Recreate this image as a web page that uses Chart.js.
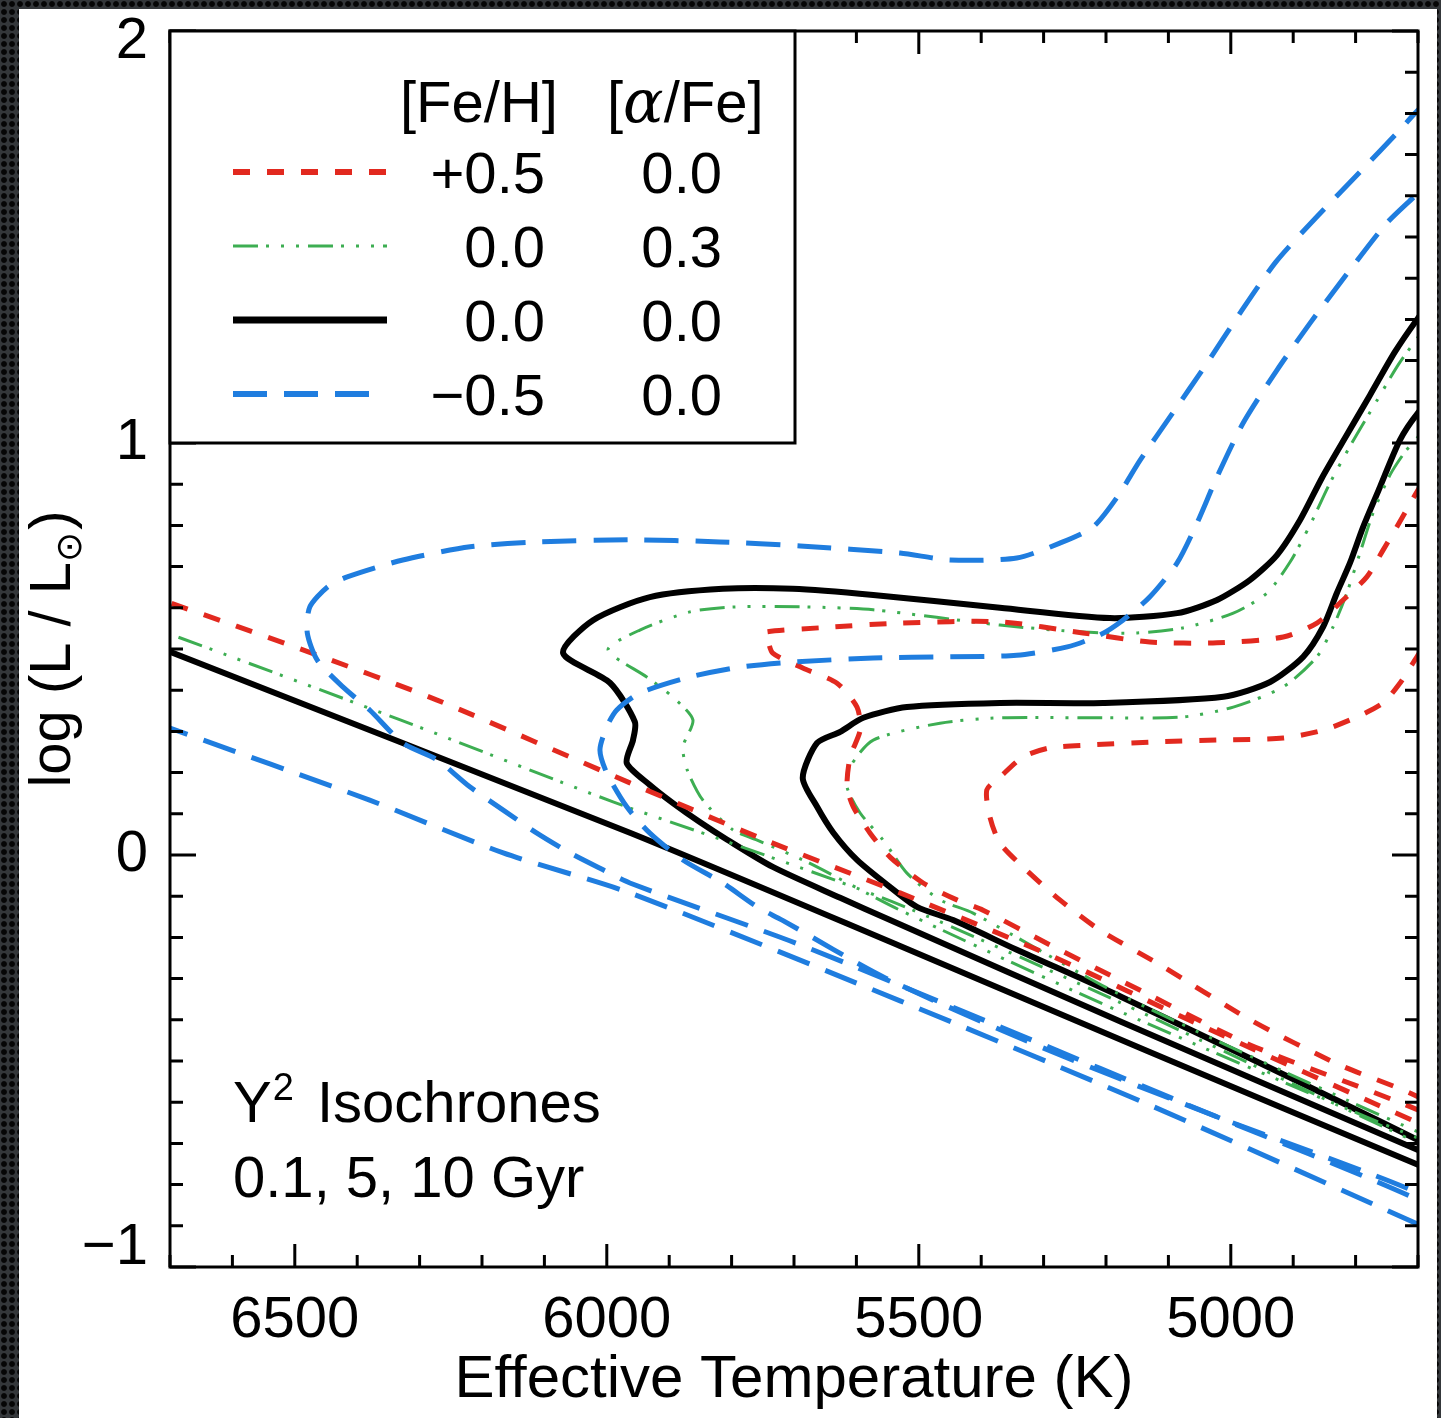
<!DOCTYPE html>
<html>
<head>
<meta charset="utf-8">
<script src="https://cdn.jsdelivr.net/npm/chart.js@4/dist/chart.umd.min.js"></script>
<style>
  html, body { margin: 0; padding: 0; }
  body {
    width: 1441px; height: 1418px; overflow: hidden; position: relative;
    background-color: #34373a;
    background-image: radial-gradient(circle, #060606 0, #060606 2.4px, rgba(6,6,6,0) 3.4px);
    background-size: 8px 8px;
  }
  #panel { position: absolute; left: 19px; top: 9px; width: 1418px; height: 1409px; background: #fff; }
  canvas { display: block; }
</style>
</head>
<body>
<div id="panel"><canvas id="hrd" width="1418" height="1409"></canvas></div>
<script>
// Y^2 isochrones in the HR diagram: [Teff (K), log L/Lsun] along each track
// Axis tick labels
const xTickValues = [6500, 6000, 5500, 5000];
const yTickValues = [-1, 0, 1, 2];

// Legend table
const feHLabels = ['+0.5', '0.0', '0.0', '\u22120.5'];
const alphaFeLabels = ['0.0', '0.3', '0.0', '0.0'];
const annotationLines = ['Isochrones', '0.1, 5, 10 Gyr'];

// [Fe/H] = +0.5, [a/Fe] = 0.0
const red_0p1Gyr = [[6800,0.665],[6700,0.612],[6487,0.498],[6272,0.376],[5963,0.175],[5754,0.041],[5530,-0.092],[5290,-0.243],[5049,-0.413],[4700,-0.650],[4650,-0.680]];
const red_5Gyr = [[4650,-0.670],[4700,-0.619],[4969,-0.461],[5130,-0.340],[5290,-0.218],[5397,-0.134],[5439,-0.109],[5493,-0.068],[5546,-0.005],[5578,0.053],[5605,0.117],[5615,0.165],[5610,0.238],[5594,0.303],[5599,0.359],[5631,0.417],[5686,0.454],[5734,0.490],[5743,0.529],[5746,0.541],[5642,0.553],[5530,0.563],[5370,0.566],[5237,0.539],[5130,0.517],[5022,0.515],[4916,0.529],[4862,0.563],[4820,0.619],[4782,0.675],[4756,0.740],[4734,0.796],[4700,0.886],[4685,0.920]];
const red_10Gyr = [[4650,-0.650],[4700,-0.587],[4825,-0.510],[4969,-0.400],[5113,-0.267],[5210,-0.182],[5274,-0.109],[5333,-0.029],[5370,0.029],[5386,0.092],[5391,0.158],[5370,0.189],[5333,0.238],[5290,0.260],[5226,0.267],[5130,0.274],[5022,0.279],[4916,0.284],[4852,0.303],[4798,0.335],[4756,0.369],[4729,0.417],[4708,0.466],[4700,0.485],[4690,0.510]];

// [Fe/H] = 0.0, [a/Fe] = +0.3
const green_0p1Gyr = [[6800,0.587],[6700,0.536],[6331,0.328],[5990,0.129],[5814,0.036],[5530,-0.121],[5176,-0.359],[4700,-0.699],[4650,-0.730]];
const green_5Gyr = [[4650,-0.700],[4700,-0.687],[5176,-0.381],[5530,-0.134],[5679,-0.017],[5759,0.036],[5798,0.061],[5846,0.133],[5871,0.206],[5878,0.262],[5862,0.328],[5894,0.383],[5936,0.432],[5998,0.498],[5947,0.546],[5867,0.590],[5798,0.602],[5679,0.602],[5573,0.595],[5370,0.558],[5237,0.541],[5150,0.539],[5077,0.551],[4996,0.587],[4942,0.636],[4905,0.711],[4873,0.801],[4841,0.903],[4806,1.000],[4767,1.100],[4732,1.189],[4700,1.257],[4685,1.290]];
const green_10Gyr = [[4650,-0.690],[4700,-0.672],[5176,-0.340],[5413,-0.141],[5466,-0.109],[5519,-0.044],[5557,0.036],[5594,0.102],[5615,0.165],[5610,0.214],[5573,0.279],[5466,0.320],[5370,0.333],[5210,0.333],[5077,0.335],[4996,0.359],[4916,0.408],[4862,0.481],[4836,0.554],[4814,0.636],[4793,0.733],[4772,0.830],[4745,0.922],[4721,0.978],[4700,1.015],[4690,1.040]];

// [Fe/H] = 0.0, [a/Fe] = 0.0
const black_0p1Gyr = [[6800,0.553],[6700,0.493],[5963,0.054],[5530,-0.221],[5130,-0.478],[4700,-0.752],[4650,-0.784]];
const black_5Gyr = [[4650,-0.750],[4700,-0.716],[5176,-0.405],[5546,-0.158],[5626,-0.104],[5734,-0.029],[5807,0.037],[5851,0.080],[5894,0.126],[5931,0.170],[5968,0.223],[5958,0.279],[5955,0.323],[5995,0.418],[6070,0.490],[6022,0.570],[5931,0.626],[5814,0.646],[5702,0.646],[5573,0.631],[5370,0.600],[5194,0.575],[5086,0.587],[5022,0.619],[4969,0.668],[4926,0.728],[4889,0.813],[4854,0.915],[4817,1.012],[4777,1.116],[4737,1.221],[4700,1.303],[4680,1.340]];
const black_10Gyr = [[4650,-0.740],[4700,-0.692],[5176,-0.344],[5343,-0.230],[5445,-0.158],[5503,-0.126],[5546,-0.078],[5599,-0.012],[5637,0.054],[5663,0.117],[5686,0.187],[5663,0.272],[5626,0.299],[5589,0.333],[5519,0.359],[5370,0.369],[5205,0.369],[5012,0.384],[4937,0.420],[4884,0.481],[4852,0.554],[4830,0.636],[4809,0.709],[4788,0.796],[4761,0.893],[4729,1.007],[4700,1.073],[4680,1.100]];

// [Fe/H] = -0.5, [a/Fe] = 0.0
const blue_0p1Gyr = [[6800,0.363],[6700,0.308],[6380,0.133],[6166,0.005],[5963,-0.092],[5530,-0.354],[5130,-0.607],[4700,-0.896],[4650,-0.930]];
const blue_5Gyr = [[4650,-0.900],[4700,-0.837],[5049,-0.619],[5370,-0.417],[5690,-0.218],[5963,-0.068],[6006,-0.036],[6059,0.005],[6112,0.053],[6166,0.109],[6219,0.165],[6272,0.231],[6327,0.272],[6380,0.352],[6423,0.408],[6464,0.473],[6480,0.539],[6476,0.602],[6448,0.650],[6416,0.675],[6327,0.716],[6219,0.748],[6112,0.760],[5963,0.765],[5819,0.760],[5690,0.750],[5530,0.733],[5450,0.716],[5343,0.721],[5274,0.757],[5221,0.796],[5182,0.869],[5145,0.959],[5093,1.073],[5038,1.194],[4985,1.316],[4928,1.439],[4864,1.546],[4793,1.658],[4729,1.760],[4700,1.808],[4680,1.830]];
const blue_10Gyr = [[4650,-0.880],[4700,-0.820],[5009,-0.643],[5301,-0.468],[5553,-0.299],[5719,-0.158],[5759,-0.126],[5814,-0.068],[5878,-0.012],[5931,0.053],[5968,0.117],[6000,0.199],[6011,0.255],[6000,0.311],[5984,0.352],[5947,0.393],[5867,0.432],[5787,0.456],[5706,0.468],[5573,0.478],[5450,0.481],[5343,0.485],[5262,0.505],[5210,0.534],[5173,0.570],[5130,0.626],[5086,0.709],[5054,0.806],[5022,0.918],[4980,1.049],[4926,1.177],[4873,1.291],[4809,1.420],[4750,1.534],[4700,1.607],[4680,1.640]];

const FONT = '"Liberation Sans", Arial, Helvetica, sans-serif';
Chart.defaults.font.family = FONT;
Chart.defaults.color = '#000';

// one style per composition, in legend order
const groups = [
  { color: '#e2291f', dash: [17, 17], width: 5, order: 1, sample: 154, tracks: [red_0p1Gyr, red_5Gyr, red_10Gyr] },
  { color: '#3dae52', dash: [25, 8, 3, 12, 3, 12, 3, 9], width: 3, order: 2, sample: 154, tracks: [green_0p1Gyr, green_5Gyr, green_10Gyr] },
  { color: '#000000', dash: [], width: 6, order: 3, sample: 154, tracks: [black_0p1Gyr, black_5Gyr, black_10Gyr] },
  { color: '#1f7ddf', dash: [34, 17], width: 5, order: 0, sample: 136, tracks: [blue_0p1Gyr, blue_5Gyr, blue_10Gyr] }
];

const datasets = [];
groups.forEach(g => g.tracks.forEach(track => datasets.push({
  data: track.map(p => ({ x: p[0], y: p[1] })),
  showLine: true, pointRadius: 0, pointHoverRadius: 0, tension: 0.25,
  borderColor: g.color, borderWidth: g.width, borderDash: g.dash,
  borderCapStyle: 'butt', borderJoinStyle: 'round', order: g.order, clip: 0
})));

const yMin = yTickValues[0];
const yMax = yTickValues[yTickValues.length - 1];

// frame with inward major/minor ticks on all four sides
const framePlugin = {
  id: 'frame',
  afterDatasetsDraw(chart) {
    const { ctx, chartArea: a, scales: { x, y } } = chart;
    ctx.save();
    ctx.strokeStyle = '#000';
    ctx.lineWidth = 3;
    ctx.setLineDash([]);
    ctx.beginPath();
    for (let t = x.min; t <= x.max; t += 100) {
      const px = x.getPixelForValue(t);
      const len = t % 500 === 0 ? 23 : 12;
      ctx.moveTo(px, a.bottom); ctx.lineTo(px, a.bottom - len);
      ctx.moveTo(px, a.top); ctx.lineTo(px, a.top + len);
    }
    for (let k = Math.round(y.min * 10); k <= Math.round(y.max * 10); k++) {
      const py = y.getPixelForValue(k / 10);
      const len = k % 10 === 0 ? 26 : 13;
      ctx.moveTo(a.left, py); ctx.lineTo(a.left + len, py);
      ctx.moveTo(a.right, py); ctx.lineTo(a.right - len, py);
    }
    ctx.stroke();
    ctx.lineJoin = 'miter';
    ctx.strokeRect(a.left, a.top, a.right - a.left, a.bottom - a.top);
    ctx.restore();
  }
};

// legend table, y-axis title and the isochrone note
const textPlugin = {
  id: 'texts',
  afterDraw(chart) {
    const { ctx, chartArea: a } = chart;
    const f = s => s + 'px ' + FONT;
    ctx.save();

    // legend box
    const box = { l: a.left, t: a.top, r: a.left + 625, b: a.top + 412 };
    ctx.fillStyle = '#fff';
    ctx.fillRect(box.l, box.t, box.r - box.l, box.b - box.t);
    ctx.strokeStyle = '#000';
    ctx.lineWidth = 3;
    ctx.strokeRect(box.l, box.t, box.r - box.l, box.b - box.t);

    ctx.fillStyle = '#000';
    ctx.textBaseline = 'alphabetic';
    ctx.font = f(58);
    ctx.textAlign = 'left';
    ctx.fillText('[Fe/H]', box.l + 230, box.t + 91);
    // [alpha/Fe] with italic alpha
    let hx = box.l + 437;
    ctx.fillText('[', hx, box.t + 91);
    hx += ctx.measureText('[').width;
    ctx.font = 'italic 60px "DejaVu Serif", "Liberation Serif", serif';
    ctx.fillText('\u03b1', hx, box.t + 91);
    hx += ctx.measureText('\u03b1').width;
    ctx.font = f(58);
    ctx.fillText('/Fe]', hx, box.t + 91);

    const rowStep = 74;
    groups.forEach((g, i) => {
      const cy = box.t + 141 + i * rowStep;
      ctx.save();
      ctx.strokeStyle = g.color;
      ctx.lineWidth = g.width + (g.width === 3 ? 0 : 1);
      ctx.setLineDash(g.dash);
      ctx.lineCap = 'butt';
      ctx.beginPath();
      ctx.moveTo(box.l + 63, cy);
      ctx.lineTo(box.l + 63 + g.sample, cy);
      ctx.stroke();
      ctx.restore();
      ctx.textAlign = 'right';
      ctx.font = f(58);
      ctx.fillText(feHLabels[i], box.l + 375, cy + 21);
      ctx.fillText(alphaFeLabels[i], box.l + 552, cy + 21);
    });

    // note in the lower left
    ctx.textAlign = 'left';
    const nx = a.left + 63;
    const ny = a.top + 1091;
    ctx.font = f(58);
    ctx.fillText('Y', nx, ny);
    const yw = ctx.measureText('Y').width;
    ctx.font = f(38);
    ctx.fillText('2', nx + yw + 1, ny - 22);
    ctx.font = f(58);
    ctx.fillText(annotationLines[0], nx + 84, ny);
    ctx.fillText(annotationLines[1], nx, ny + 75);

    // rotated y-axis title with subscript sun symbol
    const parts = [['log (L / L', f(58), 0], ['\u2299', '36px "DejaVu Sans", sans-serif', 11], [')', f(58), 0]];
    let total = 0;
    parts.forEach(p => { ctx.font = p[1]; total += ctx.measureText(p[0]).width + (p[0] === ')' ? 2 : 0); });
    ctx.translate(51, (a.top + a.bottom) / 2);
    ctx.rotate(-Math.PI / 2);
    let tx = -total / 2;
    parts.forEach(p => {
      ctx.font = p[1];
      if (p[0] === ')') tx += 2;
      ctx.fillText(p[0], tx, p[2]);
      tx += ctx.measureText(p[0]).width;
    });
    ctx.restore();
  }
};

// the end labels of the y axis sit slightly inside the frame
const yLabel = v => (v < 0 ? '\u2212' + Math.abs(v) : String(v));
const yTickFont = c => {
  const v = c.tick ? c.tick.value : null;
  if (v === yMax) return { size: 58, lineHeight: '22px' };
  if (v === yMin) return { size: 58, lineHeight: '38px' };
  return { size: 58 };
};

new Chart(document.getElementById('hrd'), {
  type: 'scatter',
  data: { datasets },
  options: {
    responsive: false,
    animation: false,
    devicePixelRatio: 1,
    layout: { padding: { top: 22, right: 19, left: 0, bottom: 0 } },
    plugins: { legend: { display: false }, tooltip: { enabled: false } },
    events: [],
    scales: {
      x: {
        type: 'linear', reverse: true, min: 4700, max: 6700,
        afterBuildTicks: s => { s.ticks = xTickValues.map(v => ({ value: v })); },
        afterFit: s => { s.height = 151; s.paddingLeft = 0; s.paddingRight = 0; },
        grid: { display: false, drawTicks: false },
        border: { display: false },
        ticks: { font: { size: 58 }, color: '#000', padding: 19, maxRotation: 0, autoSkip: false,
                 callback: v => String(v) },
        title: { display: true, text: 'Effective Temperature (K)', font: { size: 60 }, color: '#000',
                 padding: { top: 0, bottom: 2 } }
      },
      y: {
        type: 'linear', min: yMin, max: yMax,
        afterBuildTicks: s => { s.ticks = yTickValues.map(v => ({ value: v })); },
        afterFit: s => { s.width = 151; s.paddingTop = 0; s.paddingBottom = 0; },
        grid: { display: false, drawTicks: false },
        border: { display: false },
        ticks: { font: yTickFont, color: '#000', padding: 22, autoSkip: false,
                 callback: v => (v === yMax ? ['', yLabel(v)] : v === yMin ? [yLabel(v), ''] : yLabel(v)) }
      }
    }
  },
  plugins: [framePlugin, textPlugin]
});
</script>
</body>
</html>
